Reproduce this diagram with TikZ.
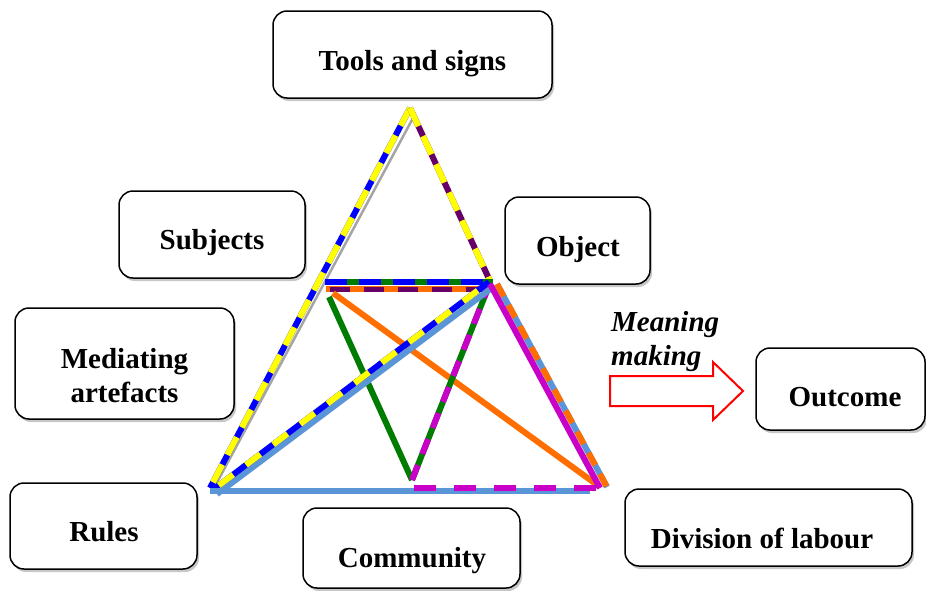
\documentclass[tikz,border=0pt]{standalone}
\usepackage{fontspec}
\setmainfont{Liberation Serif}
\usetikzlibrary{shadows}
\definecolor{cblue}{RGB}{0,0,255}
\definecolor{cyellow}{RGB}{255,255,0}
\definecolor{cpurple}{RGB}{102,0,102}
\definecolor{cgreen}{RGB}{0,125,0}
\definecolor{corange}{RGB}{255,110,0}
\definecolor{cmagenta}{RGB}{200,0,200}
\definecolor{clblue}{RGB}{90,150,215}
\definecolor{cgray}{RGB}{165,165,165}
\tikzset{
  box/.style={draw=black, line width=1.5pt, rounded corners=14pt, fill=white,
    drop shadow={shadow xshift=2pt, shadow yshift=-3pt, opacity=0.22, fill=black}},
  lbl/.style={font=\bfseries\fontsize{29}{34}\selectfont, align=center, inner sep=0pt},
  tl/.style={line width=6pt},
  dyel/.style={line width=6pt, cyellow, dash pattern=on 20pt off 11pt},
}
\begin{document}
\begin{tikzpicture}[x=1pt,y=-1pt]
\useasboundingbox (0,0) rectangle (926,590);

% key points of the triangle
\coordinate (A) at (410,108);
\coordinate (Ag) at (413,118);
\coordinate (L) at (210,488);
\coordinate (Lg) at (214,488);
\coordinate (M) at (490,281);
\coordinate (P1) at (325,282);
\coordinate (M1) at (493,282);
\coordinate (P2) at (326,289);
\coordinate (M2) at (490,289);
\coordinate (Po) at (333,293);
\coordinate (R) at (600,487);
\coordinate (Pg) at (329,297);
\coordinate (B) at (412,480);
\coordinate (Mb) at (490,283);
\coordinate (L2) at (214,489);
\coordinate (Mq) at (489,282);
\coordinate (L3) at (217,494);
\coordinate (Mq2) at (493,287);
\coordinate (Lb) at (210,491);
\coordinate (Rb) at (590,491);
\coordinate (Bm) at (412,488);
\coordinate (Rm) at (611,488);
\coordinate (Mr1) at (497,284);
\coordinate (Rr1) at (607,487);
\coordinate (Mr2) at (490,284);
\coordinate (Rr2) at (600,488);

% gray thin edge
\draw[cgray, line width=2.5pt] (Ag) -- (Lg);
% left edge
\draw[tl, cblue] (A) -- (L);
\draw[dyel] (A) -- (L);
% right upper edge
\draw[tl, cpurple] (A) -- (M);
\draw[dyel] (A) -- (M);
% horizontal lines
\draw[tl, cgreen] (P1) -- (M1);
\draw[tl, cblue, dash pattern=on 22pt off 12pt] (P1) -- (M1);
\draw[tl, corange] (P2) -- (M2);
\draw[line width=5pt, cpurple, dash pattern=on 20pt off 14pt, dash phase=-4pt] (P2) -- (M2);
% orange diagonal
\draw[tl, corange] (Po) -- (R);
% green V
\draw[tl, cgreen] (Pg) -- (B);
\draw[tl, cgreen] (B) -- (Mb);
\draw[tl, cmagenta, dash pattern=on 16pt off 12pt] (B) -- (Mb);
% diagonal L to M
\draw[tl, clblue] (L3) -- (Mq2);
\draw[tl, cblue] (L2) -- (Mq);
\draw[tl, cyellow, dash pattern=on 18pt off 16pt, dash phase=-6pt] (L2) -- (Mq);
% bottom
\draw[tl, clblue] (Lb) -- (Rb);
\draw[tl, cmagenta, dash pattern=on 22pt off 18pt, dash phase=-2pt] (Bm) -- (Rm);
% right lower edge
\draw[tl, clblue] (Mr1) -- (Rr1);
\draw[tl, corange, dash pattern=on 14pt off 10pt] (Mr1) -- (Rr1);
\draw[tl, cmagenta] (Mr2) -- (Rr2);

% boxes
\node[box, minimum width=279pt, minimum height=87pt] (tools) at (412.5,54.5) {};
\node[lbl] (toolsT) at (412.5,64) {Tools and signs};
\node[box, minimum width=186pt, minimum height=87pt] (subj) at (212,234.5) {};
\node[lbl] (subjT) at (212,243) {Subjects};
\node[box, minimum width=145pt, minimum height=87pt] (obj) at (577.5,240.5) {};
\node[lbl] (objT) at (578,250) {Object};
\node[box, minimum width=219pt, minimum height=111pt] (med) at (124.5,363.5) {};
\node[lbl] (medT) at (124.5,376) {Mediating\\artefacts};
\node[box, minimum width=169pt, minimum height=82pt] (out) at (840.5,389) {};
\node[lbl] (outT) at (845,397) {Outcome};
\node[box, minimum width=187pt, minimum height=86pt] (rules) at (103.5,526) {};
\node[lbl] (rulesT) at (104,532) {Rules};
\node[box, minimum width=217pt, minimum height=80pt] (comm) at (411.5,548) {};
\node[lbl] (commT) at (412,561) {Community};
\node[box, minimum width=287pt, minimum height=77pt] (div) at (768.5,527.5) {};
\node[lbl] (divT) at (762,538) {Division of labour};

% meaning making arrow
\node[font=\bfseries\itshape\fontsize{29}{34}\selectfont, align=left, anchor=west, inner sep=0pt] (mm) at (611,342) {Meaning\\making};
\draw[red, line width=2pt, fill=white, line join=miter]
  (610,376) -- (713,376) -- (713,362) -- (743,391) -- (713,420) -- (713,406) -- (610,406) -- cycle;
\end{tikzpicture}
\end{document}
